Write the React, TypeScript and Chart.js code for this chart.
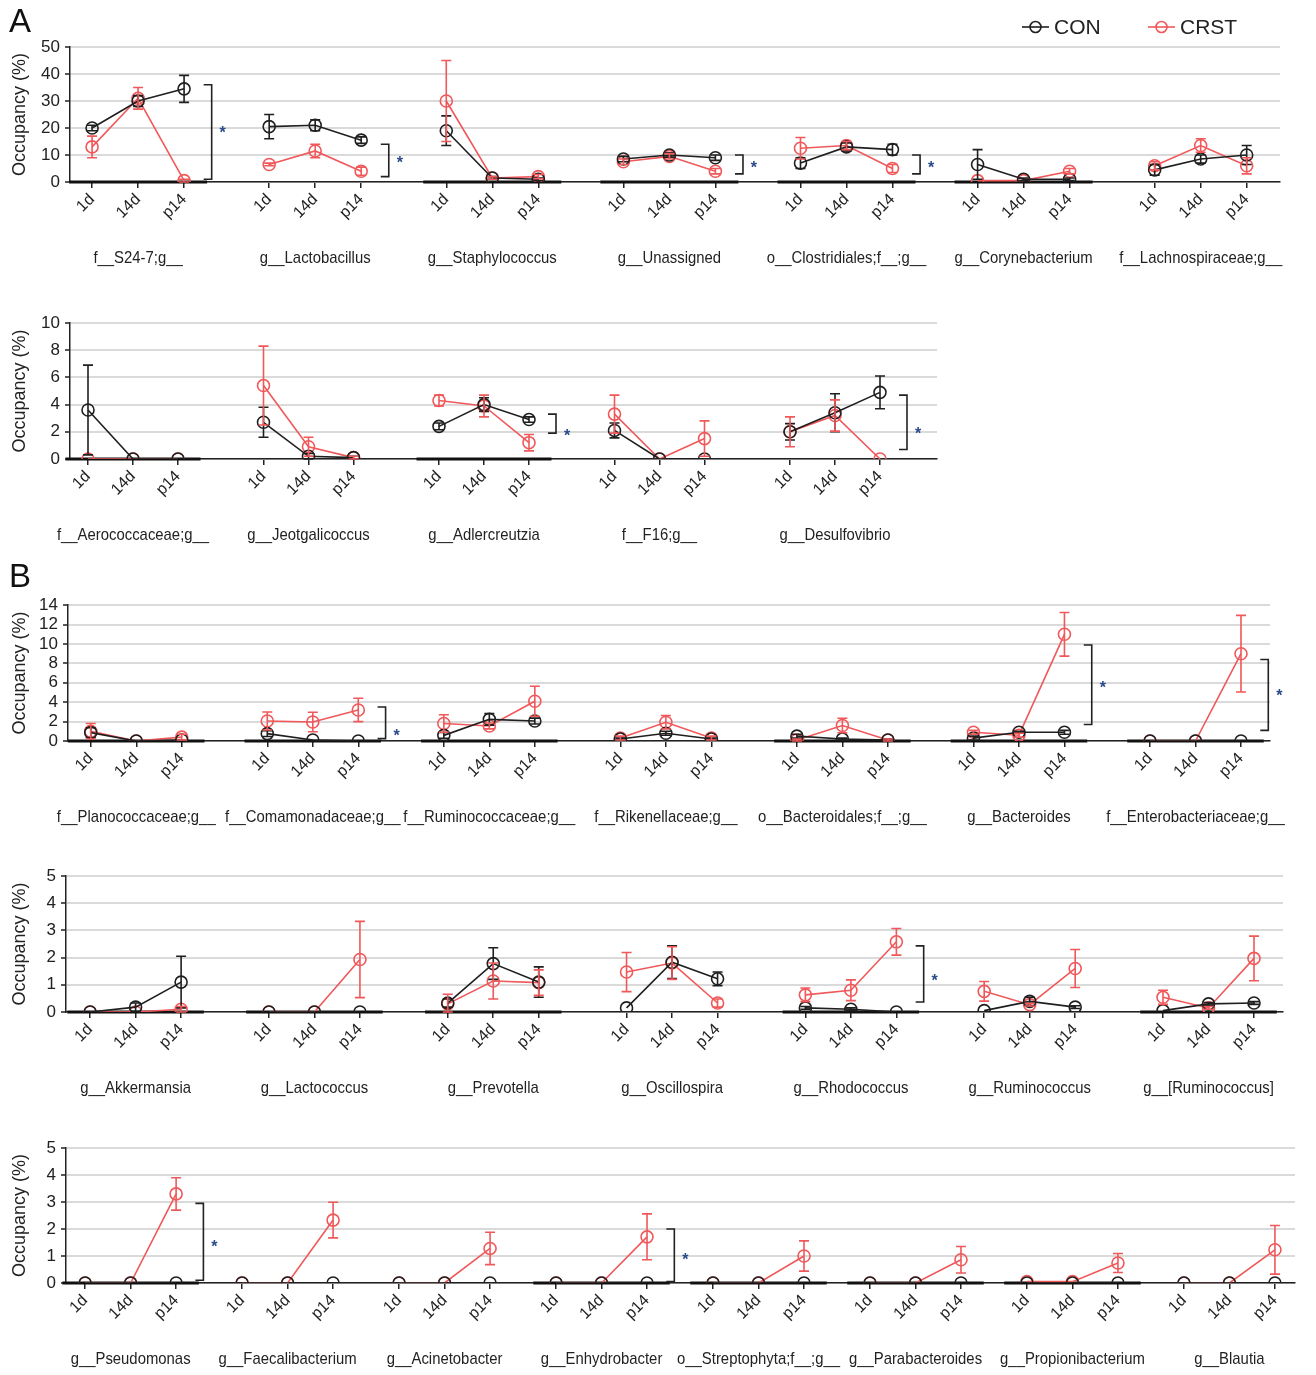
import React, { useEffect, useRef } from "react";
import { Chart, registerables } from "chart.js";

Chart.register(...registerables);

const FONT = "'Liberation Sans', Arial, sans-serif";
const INK = "#222222";
const CON_COLOR = "#1f1f1f";
const CRST_COLOR = "#f0585a";
const STAR_COLOR = "#2a4a8a";

const TIMEPOINTS = ["1d", "14d", "p14"];
const SERIES_NAMES = ["CON", "CRST"];
const Y_TITLE = "Occupancy (%)";

// ---------- Panel A, row 1 ----------
const groupsA1 = ["f__S24-7;g__", "g__Lactobacillus", "g__Staphylococcus", "g__Unassigned", "o__Clostridiales;f__;g__", "g__Corynebacterium", "f__Lachnospiraceae;g__"];
const conA1 = [[20, 30, 34.5], [20.5, 21, 15.5], [19, 1.5, 1], [8.5, 10, 9], [7, 13, 12], [6.5, 1, 1], [4.5, 8.5, 10]];
const conErrA1 = [[1, 2, 5], [4.5, 2, 1.2], [5.5, 0.5, 0.5], [1, 0.8, 1], [2, 1.5, 2], [5.5, 0.5, 0.5], [2, 1.5, 3.5]];
const crstA1 = [[13, 31, 0.5], [6.5, 11.5, 4], [30, 1.5, 2], [7.5, 9.5, 4], [12.5, 13.5, 5], [0.5, 0.5, 4], [6, 13.5, 6]];
const crstErrA1 = [[4, 4, 0.5], [0.5, 2.5, 1.5], [15, 0.5, 0.8], [1, 1, 1], [4, 1.5, 1.5], [0, 0, 1], [1.5, 2.5, 3]];
const sigA1 = [[0, 36, 1, 19], [1, 14, 2, 8], [3, 10, 3, 6], [4, 10, 3, 6]];

// ---------- Panel A, row 2 ----------
const groupsA2 = ["f__Aerococcaceae;g__", "g__Jeotgalicoccus", "g__Adlercreutzia", "f__F16;g__", "g__Desulfovibrio"];
const conA2 = [[3.6, 0, 0], [2.7, 0.2, 0.1], [2.4, 4.0, 2.9], [2.1, 0, 0], [2.0, 3.4, 4.9]];
const conErrA2 = [[3.3, 0, 0], [1.1, 0.2, 0.1], [0.25, 0.5, 0.2], [0.55, 0, 0], [0.6, 1.4, 1.2]];
const crstA2 = [[0, 0, 0], [5.4, 0.9, 0.1], [4.3, 3.9, 1.2], [3.3, 0, 1.5], [2.0, 3.2, 0]];
const crstErrA2 = [[0, 0, 0], [2.9, 0.7, 0.1], [0.4, 0.8, 0.6], [1.4, 0, 1.3], [1.1, 1.15, 0]];
const sigA2 = [[2, 3.3, 1.9, 1.9], [4, 4.7, 0.7, 2.0]];

// ---------- Panel B, row 1 ----------
const groupsB1 = ["f__Planococcaceae;g__", "f__Comamonadaceae;g__", "f__Ruminococcaceae;g__", "f__Rikenellaceae;g__", "o__Bacteroidales;f__;g__", "g__Bacteroides", "f__Enterobacteriaceae;g__"];
const conB1 = [[0.86, 0, 0.1], [0.76, 0.1, 0], [0.58, 2.23, 2.06], [0.2, 0.8, 0.2], [0.5, 0.2, 0.1], [0.3, 0.9, 0.9], [0, 0, 0]];
const conErrB1 = [[0.5, 0, 0], [0.3, 0, 0], [0.3, 0.6, 0.3], [0.1, 0.2, 0.1], [0.2, 0.1, 0.1], [0.2, 0.1, 0.2], [0, 0, 0]];
const crstB1 = [[1.0, 0, 0.4], [2.06, 1.96, 3.2], [1.8, 1.55, 4.1], [0.3, 1.93, 0.3], [0.1, 1.6, 0.1], [0.9, 0.6, 11.0], [0, 0, 9.0]];
const crstErrB1 = [[0.8, 0, 0.3], [0.93, 1.0, 1.2], [0.9, 0.3, 1.55], [0.2, 0.7, 0.2], [0.1, 0.75, 0.1], [0.2, 0.2, 2.25], [0, 0, 3.95]];
const sigB1 = [[1, 3.5, 0.24, 0.8], [5, 9.9, 1.7, 5.7], [6, 8.4, 1.1, 4.9]];

// ---------- Panel B, row 2 ----------
const groupsB2 = ["g__Akkermansia", "g__Lactococcus", "g__Prevotella", "g__Oscillospira", "g__Rhodococcus", "g__Ruminococcus", "g__[Ruminococcus]"];
const conB2 = [[0, 0.18, 1.1], [0, 0, 0], [0.33, 1.78, 1.1], [0.15, 1.83, 1.22], [0.15, 0.1, 0], [0.05, 0.39, 0.18], [0.05, 0.3, 0.33]];
const conErrB2 = [[0, 0.15, 0.95], [0, 0, 0], [0.15, 0.58, 0.56], [0, 0.6, 0.25], [0.05, 0.05, 0], [0, 0.15, 0.05], [0, 0.05, 0.05]];
const crstB2 = [[0, 0, 0.1], [0, 0, 1.93], [0.3, 1.14, 1.08], [1.47, 1.8, 0.33], [0.63, 0.8, 2.58], [0.76, 0.27, 1.6], [0.54, 0.15, 1.97]];
const crstErrB2 = [[0, 0, 0.1], [0, 0, 1.4], [0.35, 0.66, 0.47], [0.72, 0.6, 0.15], [0.25, 0.38, 0.49], [0.36, 0.05, 0.7], [0.26, 0.05, 0.82]];
const sigB2 = [[4, 2.43, 0.37, 1.24]];

// ---------- Panel B, row 3 ----------
const groupsB3 = ["g__Pseudomonas", "g__Faecalibacterium", "g__Acinetobacter", "g__Enhydrobacter", "o__Streptophyta;f__;g__", "g__Parabacteroides", "g__Propionibacterium", "g__Blautia"];
const conB3 = [[0, 0, 0], [0, 0, 0], [0, 0, 0], [0, 0, 0], [0, 0, 0], [0, 0, 0], [0, 0, 0], [0, 0, 0]];
const conErrB3 = [[0, 0, 0], [0, 0, 0], [0, 0, 0], [0, 0, 0], [0, 0, 0], [0, 0, 0], [0, 0, 0], [0, 0, 0]];
const crstB3 = [[0, 0, 3.3], [0, 0, 2.33], [0, 0, 1.28], [0, 0, 1.71], [0, 0, 1.0], [0, 0, 0.86], [0.05, 0.05, 0.74], [0, 0, 1.23]];
const crstErrB3 = [[0, 0, 0.6], [0, 0, 0.66], [0, 0, 0.6], [0, 0, 0.85], [0, 0, 0.56], [0, 0, 0.49], [0, 0, 0.35], [0, 0, 0.9]];
const sigB3 = [[0, 2.95, 0.1, 1.43], [3, 2.0, 0.05, 0.95]];

// y-axis ranges (tick labels)
const yMaxes = [50, 10, 14, 5, 5];
const ySteps = [10, 2, 2, 1, 1];

const ROWS = [
  { groups: groupsA1, con: conA1, conErr: conErrA1, crst: crstA1, crstErr: crstErrA1, sig: sigA1 },
  { groups: groupsA2, con: conA2, conErr: conErrA2, crst: crstA2, crstErr: crstErrA2, sig: sigA2 },
  { groups: groupsB1, con: conB1, conErr: conErrB1, crst: crstB1, crstErr: crstErrB1, sig: sigB1 },
  { groups: groupsB2, con: conB2, conErr: conErrB2, crst: crstB2, crstErr: crstErrB2, sig: sigB2 },
  { groups: groupsB3, con: conB3, conErr: conErrB3, crst: crstB3, crstErr: crstErrB3, sig: sigB3 },
];

// layout (pixels) and styles per row
const LAYOUT = [
  { top: 0, height: 288, plotTop: 47, zero: 182, axisX: 70, right: 1280, xMin: -0.48, step: 46, period: 3.85, legend: true, baseline: [1, 0, 1, 1, 1, 1, 0] },
  { top: 290, height: 265, plotTop: 323, zero: 459, axisX: 70, right: 937, xMin: -0.4, step: 45, period: 3.9, legend: false, baseline: [1, 0, 1, 0, 0] },
  { top: 590, height: 262, plotTop: 605, zero: 741, axisX: 68, right: 1270, xMin: -0.5, step: 45.5, period: 3.88, legend: false, baseline: [1, 1, 1, 0, 1, 1, 1] },
  { top: 860, height: 262, plotTop: 876, zero: 1012, axisX: 66, right: 1283, xMin: -0.53, step: 45.5, period: 3.93, legend: false, baseline: [1, 1, 1, 0, 1, 0, 1] },
  { top: 1128, height: 247, plotTop: 1148, zero: 1283, axisX: 66, right: 1295, xMin: -0.42, step: 45.5, period: 3.45, legend: false, baseline: [1, 0, 0, 1, 1, 1, 1, 0] },
];

function RowChart({ idx }: { idx: number }) {
  const ref = useRef<HTMLCanvasElement>(null);
  const lay = LAYOUT[idx];
  useEffect(() => {
    const row = ROWS[idx];
    const canvas = ref.current!;
    const xMax = lay.xMin + (lay.right - lay.axisX) / lay.step;
    const tickVals: number[] = [];
    row.groups.forEach((_, gi) => TIMEPOINTS.forEach((__, t) => tickVals.push(gi * lay.period + t)));

    const build = (vals: number[][], errs: number[][]) => {
      const pts: any[] = [];
      const e: (number | null)[] = [];
      vals.forEach((g, gi) => {
        g.forEach((v, t) => {
          pts.push({ x: gi * lay.period + t, y: v });
          e.push(errs[gi][t]);
        });
        pts.push({ x: gi * lay.period + 2.5, y: null });
        e.push(null);
      });
      return { pts, e };
    };
    const con = build(row.con, row.conErr);
    const crst = build(row.crst, row.crstErr);

    const decor = {
      id: "decor" + idx,
      beforeDatasetsDraw(chart: any) {
        const { ctx, scales } = chart;
        const x = scales.x, y = scales.y;
        const y0 = y.getPixelForValue(0);
        ctx.save();
        ctx.strokeStyle = "#111";
        ctx.lineWidth = 3;
        row.groups.forEach((_, gi) => {
          if (!lay.baseline[gi]) return;
          ctx.beginPath();
          ctx.moveTo(x.getPixelForValue(gi * lay.period - 0.5), y0);
          ctx.lineTo(x.getPixelForValue(gi * lay.period + 2.5), y0);
          ctx.stroke();
        });
        ctx.restore();
      },
      afterDatasetsDraw(chart: any) {
        const { ctx, scales } = chart;
        const x = scales.x, y = scales.y;
        ctx.save();
        ctx.lineWidth = 1.6;
        chart.data.datasets.forEach((ds: any, di: number) => {
          const meta = chart.getDatasetMeta(di);
          ctx.strokeStyle = ds.borderColor;
          meta.data.forEach((el: any, i: number) => {
            const p = ds.data[i];
            const err = ds.errs[i];
            if (p.y == null || !err) return;
            const yt = y.getPixelForValue(p.y + err);
            const yb = y.getPixelForValue(Math.max(p.y - err, 0));
            const px = el.x;
            ctx.beginPath();
            ctx.moveTo(px, yt); ctx.lineTo(px, yb);
            ctx.moveTo(px - 5, yt); ctx.lineTo(px + 5, yt);
            ctx.moveTo(px - 5, yb); ctx.lineTo(px + 5, yb);
            ctx.stroke();
          });
        });
        // significance brackets
        ctx.strokeStyle = INK;
        ctx.lineWidth = 1.6;
        row.sig.forEach(([gi, top, bottom, star]) => {
          const bx = x.getPixelForValue(gi * lay.period + 2 + 0.6);
          const yt = y.getPixelForValue(top);
          const yb = y.getPixelForValue(bottom);
          ctx.beginPath();
          ctx.moveTo(bx - 8, yt); ctx.lineTo(bx, yt); ctx.lineTo(bx, yb); ctx.lineTo(bx - 8, yb);
          ctx.stroke();
          ctx.fillStyle = STAR_COLOR;
          ctx.font = `bold 16px ${FONT}`;
          ctx.textAlign = "center";
          ctx.textBaseline = "middle";
          ctx.fillText("*", bx + 11, y.getPixelForValue(star) + 3);
        });
        ctx.restore();
      },
      afterDraw(chart: any) {
        const { ctx, scales } = chart;
        const x = scales.x, y = scales.y;
        ctx.save();
        ctx.fillStyle = INK;
        ctx.font = `16px ${FONT}`;
        ctx.textAlign = "center";
        ctx.textBaseline = "middle";
        const ly = y.getPixelForValue(0) + 76;
        const sx = 0.93;
        row.groups.forEach((name, gi) => {
          const cx = x.getPixelForValue(gi * lay.period + 1);
          ctx.save();
          ctx.translate(cx, ly);
          ctx.scale(sx, 1.05);
          ctx.fillText(name, 0, 0);
          ctx.restore();
        });
        if (lay.legend) {
          const items = [
            { name: SERIES_NAMES[0], color: CON_COLOR, x0: 1022 },
            { name: SERIES_NAMES[1], color: CRST_COLOR, x0: 1148 },
          ];
          items.forEach((it) => {
            const ly2 = 27;
            ctx.strokeStyle = it.color;
            ctx.lineWidth = 1.6;
            ctx.beginPath();
            ctx.moveTo(it.x0, ly2); ctx.lineTo(it.x0 + 27, ly2);
            ctx.stroke();
            ctx.beginPath();
            ctx.arc(it.x0 + 13.5, ly2, 5.5, 0, Math.PI * 2);
            ctx.stroke();
            ctx.fillStyle = INK;
            ctx.font = `21px ${FONT}`;
            ctx.textAlign = "left";
            ctx.fillText(it.name, it.x0 + 32, ly2 + 1);
          });
        }
        ctx.restore();
      },
    };

    const dsStyle = (color: string) => ({
      borderColor: color,
      backgroundColor: "rgba(0,0,0,0)",
      pointBackgroundColor: "rgba(0,0,0,0)",
      pointBorderColor: color,
      pointRadius: 6,
      pointBorderWidth: 1.6,
      borderWidth: 1.6,
      spanGaps: false,
      tension: 0,
    });

    const chart = new Chart(canvas, {
      type: "line",
      data: {
        datasets: [
          { label: SERIES_NAMES[0], data: con.pts, errs: con.e, ...dsStyle(CON_COLOR) } as any,
          { label: SERIES_NAMES[1], data: crst.pts, errs: crst.e, ...dsStyle(CRST_COLOR) } as any,
        ],
      },
      options: {
        responsive: false,
        animation: false,
        devicePixelRatio: 1,
        layout: { padding: { left: 0, right: 1316 - lay.right, top: lay.plotTop - lay.top, bottom: 0 } },
        plugins: { legend: { display: false }, tooltip: { enabled: false } },
        scales: {
          x: {
            type: "linear",
            min: lay.xMin,
            max: xMax,
            afterBuildTicks: (s: any) => {
              s.ticks = tickVals.map((v) => ({ value: v }));
            },
            afterFit: (s: any) => {
              s.height = lay.top + lay.height - lay.zero;
            },
            ticks: {
              autoSkip: false,
              maxRotation: 45,
              minRotation: 45,
              padding: 2,
              color: INK,
              font: { family: FONT, size: 16 },
              callback: (_v: any, i: number) => TIMEPOINTS[i % 3],
            },
            grid: { display: true, drawOnChartArea: false, drawTicks: true, tickLength: 6, color: INK, lineWidth: 1.5 },
            border: { display: true, color: INK, width: 1.5 },
          },
          y: {
            min: 0,
            max: yMaxes[idx],
            afterFit: (s: any) => {
              s.width = lay.axisX;
            },
            ticks: { stepSize: ySteps[idx], autoSkip: false, color: INK, padding: 5, font: { family: FONT, size: 17 } },
            grid: { color: "#dadada", lineWidth: 2, tickColor: INK, tickLength: 5, tickWidth: 1.5 },
            border: { display: true, color: INK, width: 1.5 },
            title: { display: true, text: Y_TITLE, color: INK, font: { family: FONT, size: 18 }, padding: { top: 9, bottom: 0 } },
          },
        },
      } as any,
      plugins: [decor],
    });
    return () => chart.destroy();
  }, []);
  return (
    <canvas
      ref={ref}
      width={1316}
      height={lay.height}
      style={{ position: "absolute", left: 0, top: lay.top, width: 1316, height: lay.height }}
    />
  );
}

export default function App() {
  return (
    <div style={{ position: "absolute", left: 0, top: 0, width: 1316, height: 1375, background: "#fff", fontFamily: FONT }}>
      {ROWS.map((_, i) => (
        <RowChart key={i} idx={i} />
      ))}
      <div style={{ position: "absolute", left: 9, top: 4, fontSize: 33, lineHeight: 1, color: "#111" }}>A</div>
      <div style={{ position: "absolute", left: 9, top: 559, fontSize: 33, lineHeight: 1, color: "#111" }}>B</div>
    </div>
  );
}
